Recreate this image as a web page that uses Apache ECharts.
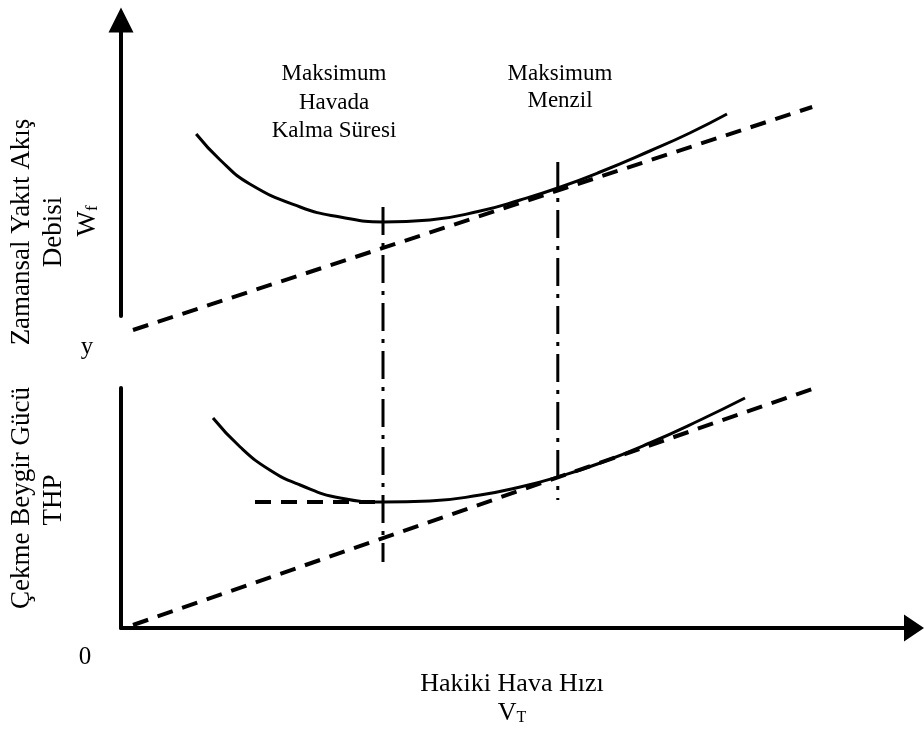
<!DOCTYPE html>
<html>
<head>
<meta charset="utf-8">
<script src="https://cdn.jsdelivr.net/npm/echarts@6/dist/echarts.min.js"></script>
<style>
  html, body { margin: 0; padding: 0; background: #fff; }
  #chart { width: 924px; height: 729px; }
</style>
</head>
<body>
<div id="chart"></div>
<script>
// Fuel flow curve (upper panel): true airspeed vs. fuel flow, schematic units
const fuelV = [9.4, 12.4, 16.1, 22.4, 27.4, 32.75, 38.6, 44.9, 49.9, 54.6, 59.9, 66.1, 71.1, 75.75];
const fuelW = [45.5, 39.0, 33.0, 27.25, 24.75, 23.5, 24.0, 26.25, 29.0, 32.0, 36.0, 41.25, 45.75, 50.5];
// Tangent from the origin to the fuel flow curve
const fuelTangentV = [1.5, 86.4];
const fuelTangentW = [-3.5, 52.25];

// Thrust horsepower curve (lower panel)
const thpV = [11.5, 14.9, 18.6, 22.4, 27.4, 32.75, 38.6, 44.9, 49.9, 54.6, 59.9, 66.1, 72.4, 78.0];
const thpP = [52.5, 45.25, 39.5, 35.75, 32.5, 31.5, 31.75, 33.25, 35.25, 37.75, 41.25, 46.25, 52.0, 57.5];
// Tangent from the origin to the THP curve
const thpTangentV = [1.5, 86.75];
const thpTangentP = [0.75, 60.0];
// Minimum THP level
const thpMinV = [16.75, 32.75];
const thpMinP = [31.5, 31.5];

// Speeds for maximum endurance and maximum range (lines run top to bottom)
const maxEnduranceV = 32.75;
const maxRangeV = 54.6;
const enduranceSpan = [105.25, 16.5];
const rangeSpan = [116.5, 32.0];

const pairs = (xs, ys) => xs.map((x, i) => [x, ys[i]]);

const SERIF = '"Liberation Serif", "Times New Roman", serif';
const BLACK = '#000';

const chart = echarts.init(document.getElementById('chart'), null, { renderer: 'canvas' });

const hidden = { show: false };
const curve = (name, xi, yi, data, style, smooth) => ({
  name, type: 'line', xAxisIndex: xi, yAxisIndex: yi, data,
  symbol: 'none', clip: false, silent: true, animation: false,
  smooth: smooth || false,
  lineStyle: Object.assign({ color: BLACK, width: 3 }, style)
});

const dashed = { type: [16, 10], width: 4 };
const dashDot = { type: [28, 8, 4, 8], width: 3 };

const text = (str, x, y, size, extra) => Object.assign({
  type: 'text', x, y, silent: true,
  style: {
    text: str, fill: BLACK, fontFamily: SERIF, fontSize: size,
    align: 'center', verticalAlign: 'middle'
  }
}, extra || {});

const subscripted = (main, sub, x, y, size, subSize, rotation) => ({
  type: 'text', x, y, rotation: rotation || 0, silent: true,
  style: {
    text: '{m|' + main + '}{s|' + sub + '}', align: 'center', verticalAlign: 'middle',
    rich: {
      m: { fontFamily: SERIF, fontSize: size, fill: BLACK, lineHeight: size + 2, verticalAlign: 'bottom' },
      s: { fontFamily: SERIF, fontSize: subSize, fill: BLACK, lineHeight: subSize - 2, verticalAlign: 'bottom' }
    }
  }
});

chart.setOption({
  backgroundColor: '#fff',
  animation: false,
  grid: [
    { left: 121, top: 20, width: 793, height: 296 },
    { left: 121, top: 388, width: 793, height: 240 }
  ],
  xAxis: [
    { gridIndex: 0, type: 'value', min: 0, max: 99.125, show: false },
    {
      gridIndex: 1, type: 'value', min: 0, max: 99.125,
      axisLine: { show: true, symbol: ['none', 'triangle'], symbolSize: [27, 20],
        lineStyle: { color: BLACK, width: 4 } },
      axisTick: hidden, axisLabel: hidden, splitLine: hidden
    }
  ],
  yAxis: [
    {
      gridIndex: 0, type: 'value', min: 0, max: 74,
      axisLine: { show: true, symbol: ['none', 'triangle'], symbolSize: [25, 25],
        lineStyle: { color: BLACK, width: 4 } },
      axisTick: hidden, axisLabel: hidden, splitLine: hidden
    },
    {
      gridIndex: 1, type: 'value', min: 0, max: 60,
      axisLine: { show: true, lineStyle: { color: BLACK, width: 4 } },
      axisTick: hidden, axisLabel: hidden, splitLine: hidden
    }
  ],
  series: [
    curve('Wf', 0, 0, pairs(fuelV, fuelW), {}, 0.5),
    curve('Wf teğet', 0, 0, pairs(fuelTangentV, fuelTangentW), dashed),
    curve('THP', 1, 1, pairs(thpV, thpP), {}, 0.5),
    curve('THP teğet', 1, 1, pairs(thpTangentV, thpTangentP), dashed),
    curve('THP min', 1, 1, pairs(thpMinV, thpMinP), dashed),
    curve('Maksimum Havada Kalma Süresi', 1, 1,
      enduranceSpan.map(p => [maxEnduranceV, p]), dashDot),
    curve('Maksimum Menzil', 1, 1,
      rangeSpan.map(p => [maxRangeV, p]), dashDot)
  ],
  graphic: [
    text('Maksimum', 334, 74, 23),
    text('Havada', 334, 103, 23),
    text('Kalma Süresi', 334, 131, 23),
    text('Maksimum', 560, 74, 23),
    text('Menzil', 560, 101, 23),

    text('Zamansal Yakıt Akış', 22, 232, 27, { rotation: Math.PI / 2 }),
    text('Debisi', 54, 232, 27, { rotation: Math.PI / 2 }),
    subscripted('W', 'f', 87, 221, 27, 17, Math.PI / 2),
    text('y', 87, 347, 25),

    text('Çekme Beygir Gücü', 22, 498, 27, { rotation: Math.PI / 2 }),
    text('THP', 54, 500, 27, { rotation: Math.PI / 2 }),
    text('0', 85, 657, 25),

    text('Hakiki Hava Hızı', 512, 684, 26),
    subscripted('V', 'T', 512, 712, 26, 16)
  ]
});
</script>
</body>
</html>
